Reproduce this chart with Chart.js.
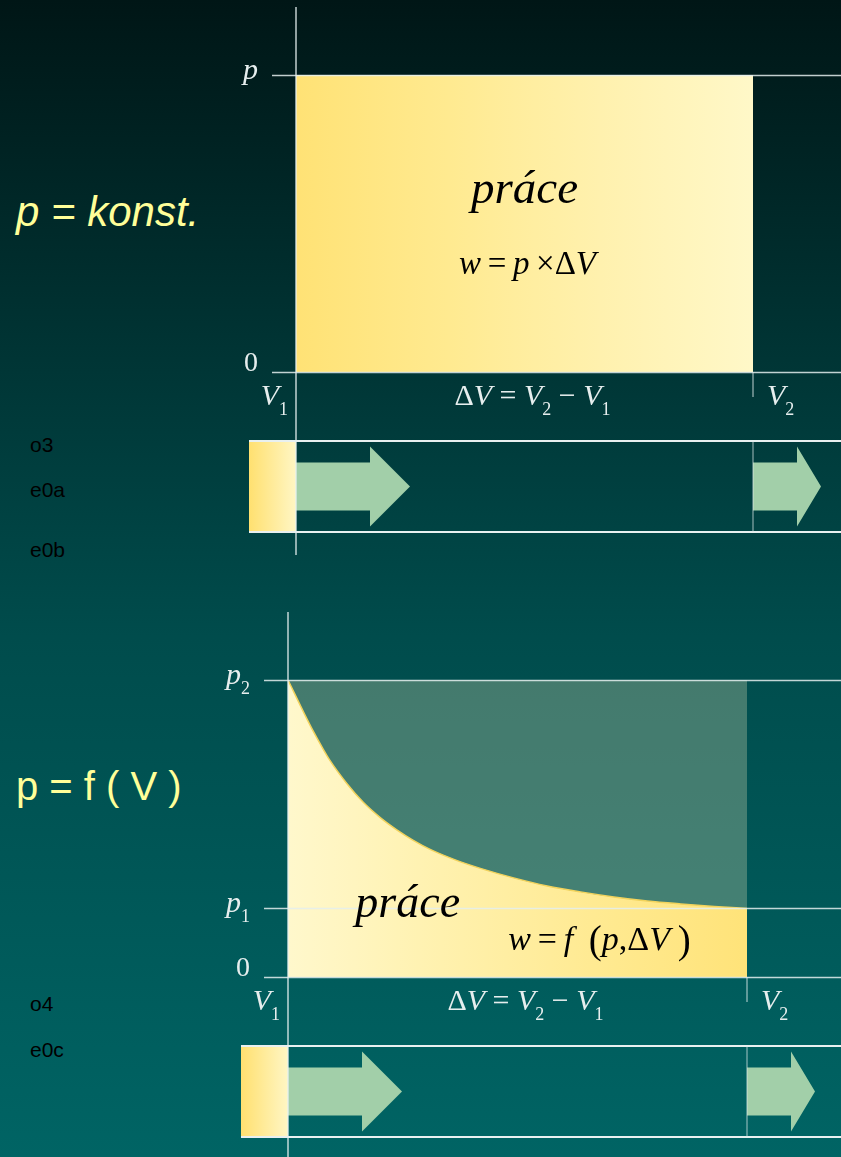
<!DOCTYPE html>
<html>
<head>
<meta charset="utf-8">
<script src="https://cdn.jsdelivr.net/npm/chart.js@4.4.1/dist/chart.umd.min.js"></script>
<style>
html, body { margin: 0; padding: 0; }
body {
    width: 841px; height: 1157px; overflow: hidden; position: relative;
    background: linear-gradient(to bottom, #001616 0%, #003434 30%, #004c4c 55%, #006464 100%);
    font-family: "Liberation Sans", Arial, sans-serif;
}
.graf { position: absolute; left: 0; width: 841px; }
.nadpis { position: absolute; left: 16px; color: #ffff99; font-size: 42px; line-height: 1; white-space: nowrap; }
.znacka { position: absolute; left: 30px; color: #000; font-size: 21px; line-height: 1; }
</style>
</head>
<body>
<div class="nadpis" style="top:191px;font-style:italic">p = konst.</div>
<div class="nadpis" style="top:766px;font-size:40px">p = f ( V )</div>
<div class="znacka" style="top:434px">o3</div>
<div class="znacka" style="top:479px">e0a</div>
<div class="znacka" style="top:539px">e0b</div>
<div class="znacka" style="top:993px">o4</div>
<div class="znacka" style="top:1039px">e0c</div>

<div class="graf" style="top:0;height:580px"><canvas id="grafKonst"></canvas></div>
<div class="graf" style="top:580px;height:577px"><canvas id="grafKrivka"></canvas></div>

<script>
// objemy V1, V2 (pro oba grafy stejne)
var objemy = [1, 4];
var objemyPopisky = ['V1', 'V2'];

// horni graf: p = konst.
var tlakKonst = [1, 1];
var tlakKonstTicky = [1, 0];
var tlakKonstPopisky = ['p', '0'];

// dolni graf: p = f(V)
var objemyKrivka = [1.0, 1.055, 1.109, 1.164, 1.219, 1.273, 1.383, 1.492, 1.601, 1.711, 1.819, 1.929, 2.093, 2.257, 2.475, 2.694, 2.912, 3.13, 3.349, 3.567, 3.786, 4.0];
var tlakKrivka = [4.33, 4.077, 3.829, 3.587, 3.365, 3.161, 2.825, 2.547, 2.328, 2.146, 1.993, 1.861, 1.708, 1.584, 1.445, 1.328, 1.241, 1.168, 1.109, 1.066, 1.029, 1.0];
var tlakKrivkaTicky = [4.33, 1, 0];
var tlakKrivkaPopisky = ['p2', 'p1', '0'];

var PATKA = '"Liberation Serif", "Times New Roman", serif';

// vykresli vzorec po kouscich: i = kurziva, r = normalni, s = dolni index, b = velka zavorka
function vzorec(ctx, casti, x, y, zarovnani, vel) {
    function font(k) {
        if (k === 'i') return 'italic ' + vel + 'px ' + PATKA;
        if (k === 's') return Math.round(vel * 0.6) + 'px ' + PATKA;
        if (k === 'b') return Math.round(vel * 1.15) + 'px ' + PATKA;
        return vel + 'px ' + PATKA;
    }
    var sirky = [], celkem = 0;
    casti.forEach(function (c) {
        ctx.font = font(c[1]);
        var w = ctx.measureText(c[0]).width;
        sirky.push(w); celkem += w;
    });
    var cx = zarovnani === 'center' ? x - celkem / 2 : (zarovnani === 'right' ? x - celkem : x);
    ctx.textAlign = 'left';
    ctx.textBaseline = 'alphabetic';
    casti.forEach(function (c, i) {
        ctx.font = font(c[1]);
        var dy = c[1] === 's' ? vel * 0.33 : (c[1] === 'b' ? vel * 0.08 : 0);
        ctx.fillText(c[0], cx, y + dy);
        cx += sirky[i];
    });
}

// 'p2' -> p kurzivou + index 2, '0' -> normalne
function popisek(t) {
    if (/^[0-9]/.test(t)) return [[t, 'r']];
    var r = [[t[0], 'i']];
    if (t.length > 1) r.push([t.slice(1), 's']);
    return r;
}

function cara(ctx, x1, y1, x2, y2) {
    ctx.beginPath(); ctx.moveTo(x1, y1); ctx.lineTo(x2, y2); ctx.stroke();
}

function sipka(ctx, x, ym, telo, delka) {
    ctx.beginPath();
    ctx.moveTo(x, ym - 24);
    ctx.lineTo(x + telo, ym - 24);
    ctx.lineTo(x + telo, ym - 40);
    ctx.lineTo(x + delka, ym);
    ctx.lineTo(x + telo, ym + 40);
    ctx.lineTo(x + telo, ym + 24);
    ctx.lineTo(x, ym + 24);
    ctx.closePath();
    ctx.fill();
}

var diagramPlugin = {
    id: 'diagram',
    afterDatasetsDraw: function (chart, args, o) {
        var ctx = chart.ctx, sx = chart.scales.x, sy = chart.scales.y, a = chart.chartArea, W = chart.width;
        var x1 = sx.getPixelForValue(objemy[0]), x2 = sx.getPixelForValue(objemy[1]);
        var y0 = sy.getPixelForValue(0);
        var pTop = y0 + 69, pBot = y0 + 160, pMid = (pTop + pBot) / 2;
        ctx.save();

        // pist
        var g = ctx.createLinearGradient(x1 - 47, 0, x1, 0);
        g.addColorStop(0, '#ffe070');
        g.addColorStop(1, '#fff6c4');
        ctx.fillStyle = g;
        ctx.fillRect(x1 - 47, pTop, 47, pBot - pTop);
        ctx.fillStyle = '#a2cfa9';
        sipka(ctx, x1, pMid, 74, 114);
        sipka(ctx, x2, pMid, 44, 68);
        ctx.strokeStyle = '#e8f0f0';
        ctx.lineWidth = 2;
        cara(ctx, x1 - 47, pTop, W, pTop);
        cara(ctx, x1 - 47, pBot, W, pBot);
        ctx.strokeStyle = 'rgba(220,232,232,0.75)';
        ctx.lineWidth = 1;
        cara(ctx, x2, pTop, x2, pBot);

        // vodorovne cary tlaku
        ctx.strokeStyle = 'rgba(228,238,238,0.85)';
        ctx.lineWidth = 1.5;
        o.ticky.forEach(function (p) {
            var py = Math.round(sy.getPixelForValue(p)) + 0.5;
            cara(ctx, a.left - 24, py, W, py);
        });
        // osa V1 a znacka V2
        ctx.lineWidth = 1.5;
        cara(ctx, x1, a.top - 68, x1, a.bottom + 183);
        ctx.lineWidth = 1;
        cara(ctx, x2, y0, x2, y0 + 25);

        // popisky os
        ctx.fillStyle = '#e6eeee';
        o.ticky.forEach(function (p, i) {
            var t = o.popisky[i];
            var py = sy.getPixelForValue(p);
            vzorec(ctx, popisek(t), a.left - 38, /^[0-9]/.test(t) ? py - 1 : py + 4, 'right', /^[0-9]/.test(t) ? 28 : 30);
        });
        vzorec(ctx, popisek(objemyPopisky[0]), x1 - 8, y0 + 33, 'right', 30);
        vzorec(ctx, popisek(objemyPopisky[1]), x2 + 14, y0 + 33, 'left', 30);
        vzorec(ctx, [['\u0394', 'r'], ['V', 'i'], [' = ', 'r'], ['V', 'i'], ['2', 's'], [' \u2212 ', 'r'], ['V', 'i'], ['1', 's']],
            (x1 + x2) / 2 + 8, y0 + 33, 'center', 30);

        // texty v plose
        ctx.fillStyle = '#000';
        o.texty.forEach(function (t) {
            vzorec(ctx, t.casti, sx.getPixelForValue(t.v), sy.getPixelForValue(t.p), t.zar, t.vel);
        });
        ctx.restore();
    }
};

function prechod(barvy) {
    return function (c) {
        var a = c.chart.chartArea;
        if (!a) return null;
        var g = c.chart.ctx.createLinearGradient(a.left, 0, a.right, 0);
        barvy.forEach(function (b, i) { g.addColorStop(i / (barvy.length - 1), b); });
        return g;
    };
}

Chart.defaults.animation = false;

var grafKonst = new Chart(document.getElementById('grafKonst'), {
    type: 'line',
    data: {
        datasets: [{
            data: objemy.map(function (v, i) { return { x: v, y: tlakKonst[i] }; }),
            fill: 'origin',
            backgroundColor: prechod(['#ffe275', '#ffea90', '#fff1ae', '#fff8c8']),
            borderWidth: 0,
            pointRadius: 0
        }]
    },
    options: {
        responsive: true,
        maintainAspectRatio: false,
        layout: { padding: { left: 296, right: 88, top: 75, bottom: 208 } },
        scales: {
            x: { type: 'linear', min: objemy[0], max: objemy[1], display: false },
            y: { min: 0, max: tlakKonst[0], display: false }
        },
        plugins: {
            legend: { display: false },
            tooltip: { enabled: false },
            diagram: {
                ticky: tlakKonstTicky,
                popisky: tlakKonstPopisky,
                texty: [
                    { casti: [['pr\u00e1ce', 'i']], v: 2.5, p: 0.57, zar: 'center', vel: 47 },
                    { casti: [['w', 'i'], ['\u2009=\u2009', 'r'], ['p', 'i'], ['\u2009\u00d7', 'r'], ['\u0394', 'r'], ['V', 'i']], v: 2.52, p: 0.33, zar: 'center', vel: 33 }
                ]
            }
        }
    },
    plugins: [diagramPlugin]
});

var grafKrivka = new Chart(document.getElementById('grafKrivka'), {
    type: 'line',
    data: {
        datasets: [{
            data: objemyKrivka.map(function (v, i) { return { x: v, y: tlakKrivka[i] }; }),
            fill: 'origin',
            backgroundColor: prechod(['#fff8cc', '#fff1ae', '#ffea92', '#ffe379']),
            borderColor: '#f2d35c',
            borderWidth: 1.5,
            cubicInterpolationMode: 'monotone',
            pointRadius: 0,
            order: 0
        }, {
            data: objemy.map(function (v) { return { x: v, y: tlakKrivka[0] }; }),
            fill: { value: tlakKrivka[tlakKrivka.length - 1] },
            backgroundColor: 'rgba(170,190,158,0.4)',
            borderWidth: 0,
            pointRadius: 0,
            order: 1
        }]
    },
    options: {
        responsive: true,
        maintainAspectRatio: false,
        layout: { padding: { left: 288, right: 94, top: 100, bottom: 180 } },
        scales: {
            x: { type: 'linear', min: objemy[0], max: objemy[1], display: false },
            y: { min: 0, max: tlakKrivka[0], display: false }
        },
        plugins: {
            legend: { display: false },
            tooltip: { enabled: false },
            diagram: {
                ticky: tlakKrivkaTicky,
                popisky: tlakKrivkaPopisky,
                texty: [
                    { casti: [['pr\u00e1ce', 'i']], v: 1.44, p: 0.88, zar: 'left', vel: 46 },
                    { casti: [['w', 'i'], ['\u2009=\u2009', 'r'], ['f', 'i'], ['\u2009\u2009(', 'b'], ['p', 'i'], [',', 'r'], ['\u0394', 'r'], ['V', 'i'], ['\u2009)', 'b']], v: 2.44, p: 0.39, zar: 'left', vel: 34 }
                ]
            }
        }
    },
    plugins: [diagramPlugin]
});
</script>
</body>
</html>
